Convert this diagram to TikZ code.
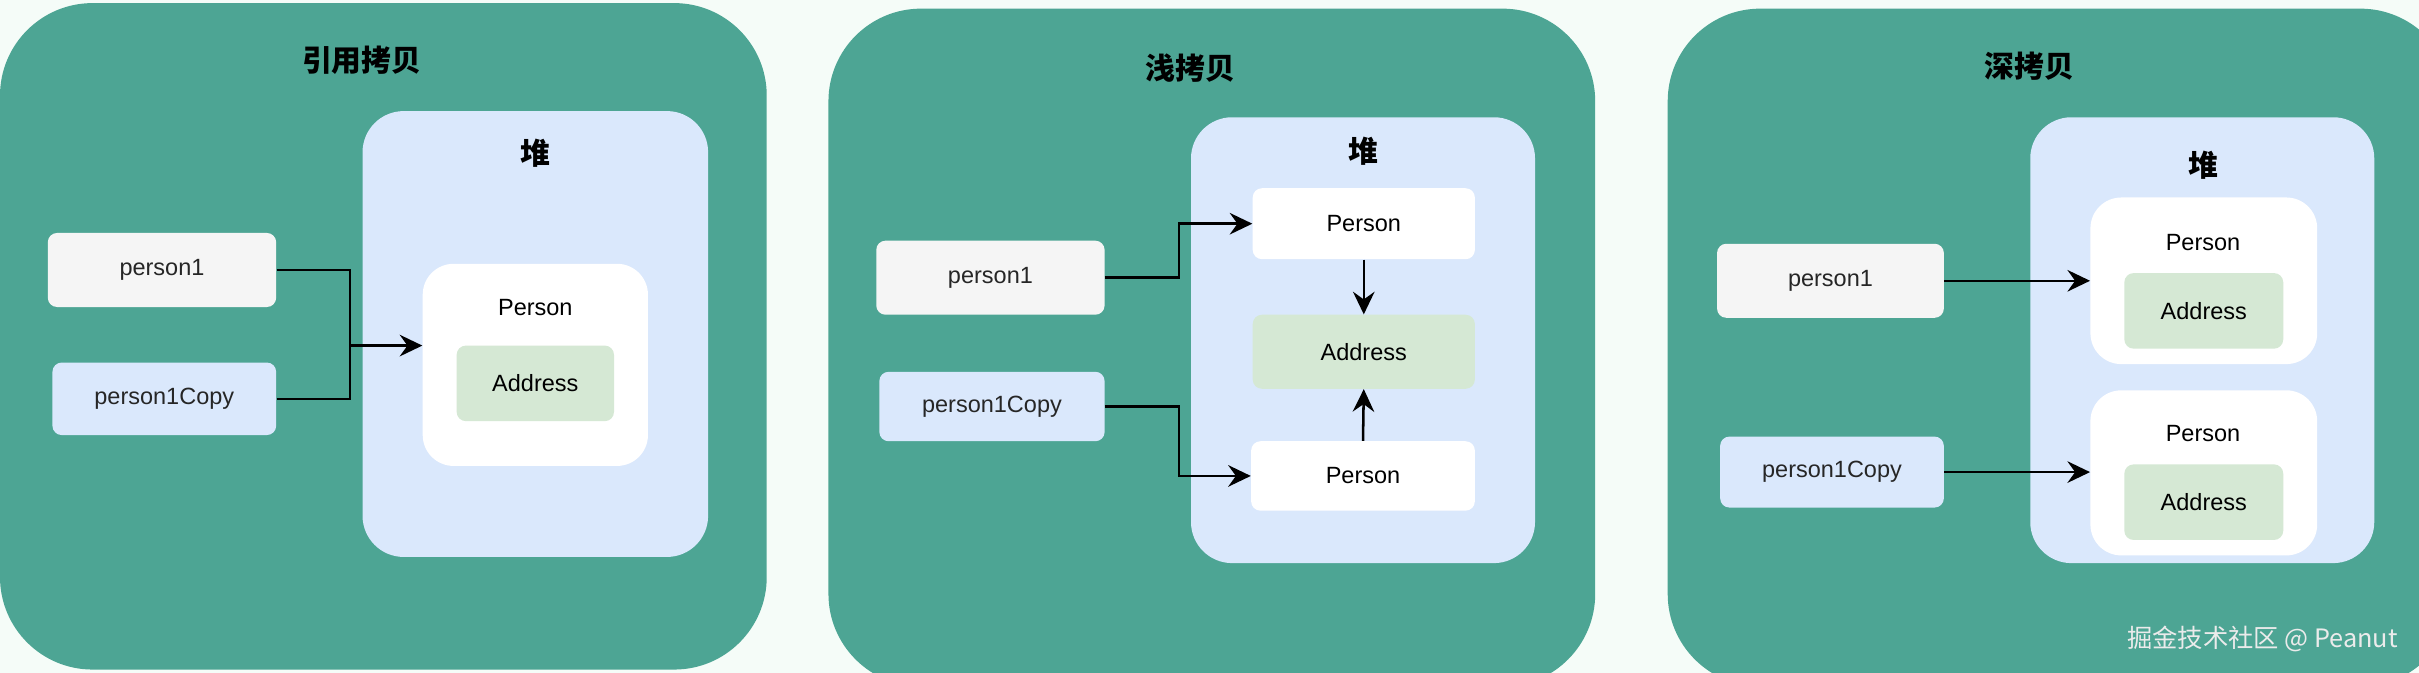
\documentclass[tikz,border=0pt]{standalone}
\usepackage{fontspec}
\setmainfont{Liberation Sans}
\newfontfamily\cjk{Noto Sans CJK SC}
\usetikzlibrary{arrows.meta, positioning, fit}
\definecolor{panelgreen}{HTML}{4DA594}
\definecolor{heapblue}{HTML}{DAE8FC}
\definecolor{vargray}{HTML}{F5F5F5}
\definecolor{addrgreen}{HTML}{D5E8D4}
\definecolor{bgmint}{HTML}{F5FCF8}

\begin{document}
\begin{tikzpicture}[x=0.03cm, y=-0.03cm,
        panel/.style={fill=panelgreen, rounded corners=1.8cm, inner sep=0pt},
        title/.style={font=\cjk\bfseries\fontsize{16.5}{18}\selectfont, text=black},
        heap/.style={fill=heapblue, rounded corners=0.8cm, inner sep=0pt},
        sz/.style 2 args={minimum width=#1*0.03cm, minimum height=#2*0.03cm},
        var/.style={rounded corners=0.18cm, inner sep=0pt, font=\fontsize{13}{15}\selectfont, text=black!85},
        obj/.style={fill=white, rounded corners=0.6cm, inner sep=0pt},
        objbox/.style={fill=white, rounded corners=0.18cm, inner sep=0pt, font=\fontsize{13}{15}\selectfont},
        addr/.style={fill=addrgreen, rounded corners=0.18cm, inner sep=0pt, font=\fontsize{13}{15}\selectfont},
        txt/.style={font=\fontsize{13}{15}\selectfont, inner sep=0pt},
        wire/.style={line width=1.4pt},
        arrow/.style={-{Stealth[length=4.4mm, width=4.2mm, inset=1.5mm]}, line width=1.4pt}
    ]
        \useasboundingbox (0,0) rectangle (1568,436);
        \fill[bgmint] (0,0) rectangle (1568,436);

        % reference copy
        \node[panel, fit={(0,2) (497,434)}] (pan1) {};
        \node[title] (t1) at (234.5,39) {引用拷贝};
        \node[heap, fit={(235,72) (459,361)}] (h1) {};
        \node[title] (hl1) at (347,99) {堆};
        \node[var, fill=vargray, sz={148}{48}] (r1) at (105,175) {person1};
        \node[var, fill=heapblue, sz={145}{47}] (c1) at (106.5,258.5) {person1Copy};
        \node[obj, fit={(274,171) (420,302)}] (w1) {};
        \node[txt] (pn1) at (347,199.5) {Person};
        \node[addr, sz={102}{49}] (a1) at (347,248.5) {Address};
        \coordinate (j1) at (227,224);
        \draw[wire] (r1.east) -| (j1);
        \draw[wire] (c1.east) -| (j1);
        \draw[arrow] (j1) -- (j1 -| w1.west);

        % shallow copy
        \node[panel, fit={(537,5.6) (1034,445)}] (pan2) {};
        \node[title] (t2) at (771.5,44) {浅拷贝};
        \node[heap, fit={(772,76) (995,365)}] (h2) {};
        \node[title] (hl2) at (884,98) {堆};
        \node[var, fill=vargray, sz={148}{48}] (r2) at (642,180) {person1};
        \node[var, fill=heapblue, sz={146}{45}] (c2) at (643,263.5) {person1Copy};
        \node[objbox, sz={144}{46}] (pa2) at (884,145) {Person};
        \node[addr, sz={144}{48}] (ad2) at (884,228) {Address};
        \node[objbox, sz={145}{45}] (pb2) at (883.5,308.5) {Person};
        \draw[arrow] (r2.east) -- ++(48,0) |- (pa2.west);
        \draw[arrow] (c2.east) -- ++(48,0) |- (pb2.west);
        \draw[arrow] (pa2.south) -- (ad2.north);
        \draw[arrow] (pb2.north) -- (ad2.south);

        % deep copy
        \node[panel, fit={(1081,5.6) (1590,445)}] (pan3) {};
        \node[title] (t3) at (1315.6,43) {深拷贝};
        \node[heap, fit={(1316,76) (1539,365)}] (h3) {};
        \node[title] (hl3) at (1428,107) {堆};
        \node[var, fill=vargray, sz={147}{48}] (r3) at (1186.5,182) {person1};
        \node[var, fill=heapblue, sz={145}{46}] (c3) at (1187.5,306) {person1Copy};
        \node[obj, fit={(1355,128) (1502,236)}] (w3a) {};
        \node[txt] (pn3a) at (1428,157) {Person};
        \node[addr, sz={103}{49}] (a3a) at (1428.5,201.5) {Address};
        \node[obj, fit={(1355,253) (1502,360)}] (w3b) {};
        \node[txt] (pn3b) at (1428,281) {Person};
        \node[addr, sz={103}{49}] (a3b) at (1428.5,325.5) {Address};
        \draw[arrow] (r3.east) -- (r3.east -| w3a.west);
        \draw[arrow] (c3.east) -- (c3.east -| w3b.west);

        \node[font=\cjk\fontsize{14}{16}\selectfont, text=white!92!black] (mark) at (1466.5,414) {掘金技术社区 @ Peanut};
    \end{tikzpicture}
\end{document}
